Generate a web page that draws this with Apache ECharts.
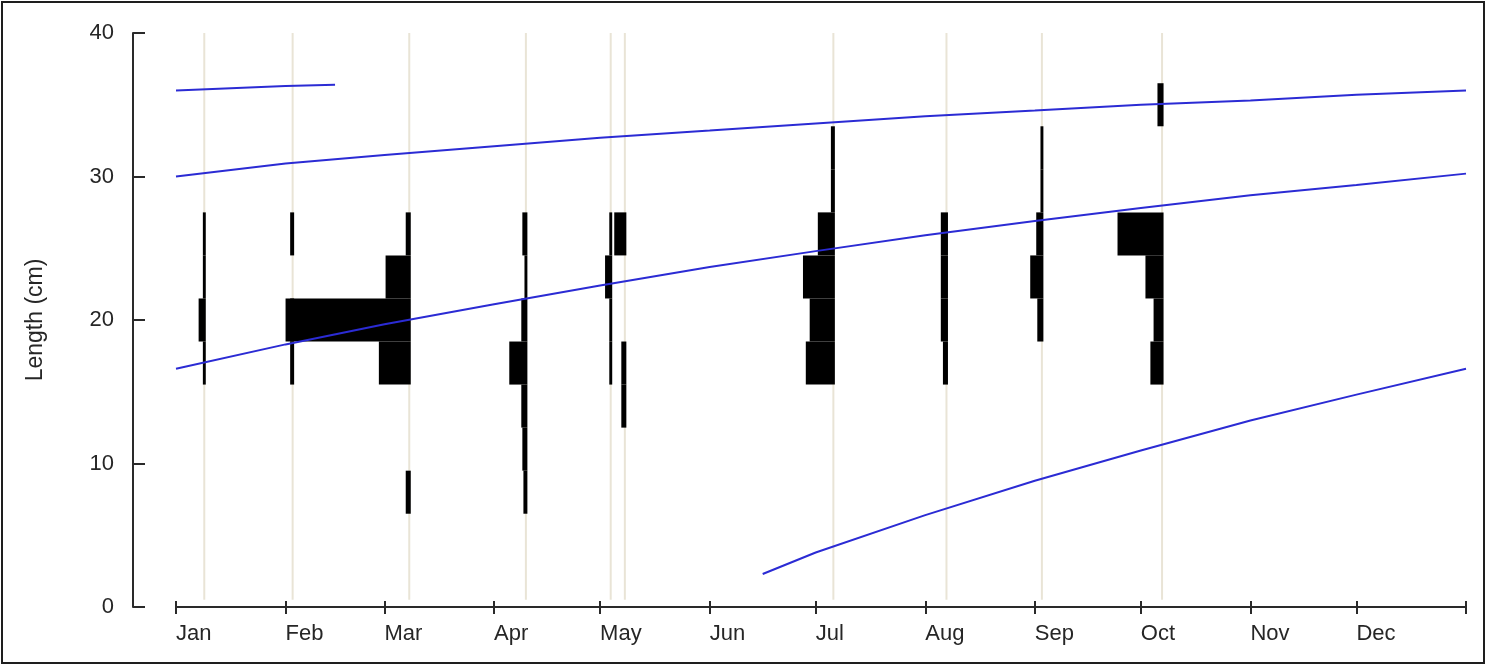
<!DOCTYPE html>
<html><head><meta charset="utf-8">
<script src="https://cdn.jsdelivr.net/npm/echarts@6/dist/echarts.min.js"></script>
<style>html,body{margin:0;padding:0;background:#fff}#c{width:1487px;height:666px}</style>
</head><body><div id="c"></div>
<script>
// ---- axis labels / ticks ----
const monthLabels = ['Jan','Feb','Mar','Apr','May','Jun','Jul','Aug','Sep','Oct','Nov','Dec'];
const monthStartDays = [0,31,59,90,120,151,181,212,243,273,304,334];
const yearEndDay = 365;
const yTicks = [0,10,20,30,40];

// ---- length-frequency samples ----
const sampleDays = [8,33,66,99,123,127,186,218,245,279];
const binLower = [6.5,9.5,12.5,15.5,18.5,21.5,24.5,27.5,30.5,33.5];
const binWidth = 3;
// relative frequency per bin (mids 8,11,14,17,20,23,26,29,32,35 cm)
const freqJan  = [0,   0,   0,   0.4, 1.6, 0.4, 0.4, 0,   0,   0  ];
const freqFeb  = [0,   0,   0,   0.7, 0.7, 0,   0.7, 0,   0,   0  ];
const freqMar  = [1.0, 0,   0,   8.6, 35.0,6.7, 1.0, 0,   0,   0  ];
const freqApr  = [0.7, 1.0, 1.3, 4.7, 1.3, 0.4, 1.0, 0,   0,   0  ];
const freqMay1 = [0,   0,   0,   0.4, 0.4, 1.6, 0.4, 0,   0,   0  ];
const freqMay2 = [0,   0,   1.0, 1.0, 0,   0,   3.0, 0,   0,   0  ];
const freqJul  = [0,   0,   0,   7.8, 6.7, 8.6, 4.4, 0.7, 0.7, 0  ];
const freqAug  = [0,   0,   0,   1.0, 1.6, 1.6, 1.6, 0,   0,   0  ];
const freqSep  = [0,   0,   0,   0,   1.3, 3.3, 1.6, 0.4, 0.4, 0  ];
const freqOct  = [0,   0,   0,   3.3, 2.4, 4.7, 12.6,0,   0,   1.3];

// ---- growth curve (day of year, length cm) ----
const curveYear0 = [[166,2.3],[181,3.8],[212,6.4],[243,8.8],[273,10.9],[304,13.0],[334,14.8],[365,16.6]];
const curveYear1 = [[0,16.6],[31,18.3],[59,19.7],[90,21.1],[120,22.4],[151,23.7],[181,24.8],[212,25.9],[243,26.9],[273,27.8],[304,28.7],[334,29.4],[365,30.2]];
const curveYear2 = [[0,30.0],[31,30.9],[59,31.5],[90,32.1],[120,32.7],[151,33.2],[181,33.7],[212,34.2],[243,34.6],[273,35.0],[304,35.3],[334,35.7],[365,36.0]];
const curveYear3 = [[0,36.0],[31,36.3],[45,36.4]];

const freqBySample = [freqJan,freqFeb,freqMar,freqApr,freqMay1,freqMay2,freqJul,freqAug,freqSep,freqOct];
const barData = [];
sampleDays.forEach((d,i)=>{
  freqBySample[i].forEach((f,j)=>{
    if (f>0) barData.push([d, binLower[j], binLower[j]+binWidth, f]);
  });
});
const tickDays = monthStartDays.concat([yearEndDay]);

const FONT = 'Liberation Sans, Arial, sans-serif';
const AX = '#2a2a2a';
const TXT = '#262626';
const BLUE = '#2b2bd4';

const chart = echarts.init(document.getElementById('c'), null, {renderer:'canvas'});

function curveSeries(data){
  return {type:'line', data:data, showSymbol:false, symbol:'none', smooth:false,
    lineStyle:{color:BLUE, width:2}, z:5, silent:true, animation:false};
}

chart.setOption({
  animation:false,
  backgroundColor:'#fff',
  grid:{left:176, right:21, top:33, bottom:59, containLabel:false},
  graphic:[{type:'rect', shape:{x:2, y:2, width:1482, height:661},
    style:{fill:'none', stroke:'#1e1e1e', lineWidth:2}, z:100}],
  xAxis:[{
    type:'value', min:0, max:yearEndDay, position:'bottom',
    axisLine:{show:true, onZero:false, lineStyle:{color:AX, width:2}},
    axisTick:{show:true, customValues:tickDays, length:7, lineStyle:{color:AX, width:2}},
    axisLabel:{customValues:monthStartDays, formatter:v=>monthLabels[monthStartDays.indexOf(v)],
      align:'left', fontSize:22, color:TXT, fontFamily:FONT, margin:16},
    splitLine:{show:false}
  },{
    type:'value', min:0, max:yearEndDay, position:'bottom',
    axisLine:{show:false, onZero:false},
    axisTick:{show:true, inside:true, customValues:tickDays, length:6, lineStyle:{color:AX, width:2}},
    axisLabel:{show:false}, splitLine:{show:false}
  }],
  yAxis:{
    type:'value', min:0, max:40, interval:10, offset:43,
    axisLine:{show:true, onZero:false, lineStyle:{color:AX, width:2}},
    axisTick:{show:true, inside:true, length:12, customValues:yTicks, lineStyle:{color:AX, width:2}},
    axisLabel:{fontSize:22, color:TXT, fontFamily:FONT, margin:19, customValues:yTicks},
    splitLine:{show:false},
    name:'Length (cm)', nameLocation:'middle', nameGap:86,
    nameTextStyle:{fontSize:23, color:TXT, fontFamily:FONT}
  },
  series:[
    {type:'custom', silent:true, z:1, data:sampleDays.map(d=>[d]),
      renderItem:function(params, api){
        const d = api.value(0);
        const a = api.coord([d, 0.5]), b = api.coord([d, 40]);
        return {type:'line', shape:{x1:a[0], y1:a[1], x2:b[0], y2:b[1]},
          style:{stroke:'#e9e4d6', lineWidth:2}};
      }},
    {type:'custom', silent:true, z:2, data:barData,
      renderItem:function(params, api){
        const d = api.value(0), lo = api.value(1), hi = api.value(2), f = api.value(3);
        const p1 = api.coord([d - f, hi]);
        const p2 = api.coord([d, lo]);
        return {type:'rect', shape:{x:p1[0], y:p1[1], width:p2[0]-p1[0]+1.5, height:p2[1]-p1[1]},
          style:{fill:'#000'}};
      }},
    curveSeries(curveYear0),
    curveSeries(curveYear1),
    curveSeries(curveYear2),
    curveSeries(curveYear3)
  ]
});
</script>
</body></html>
